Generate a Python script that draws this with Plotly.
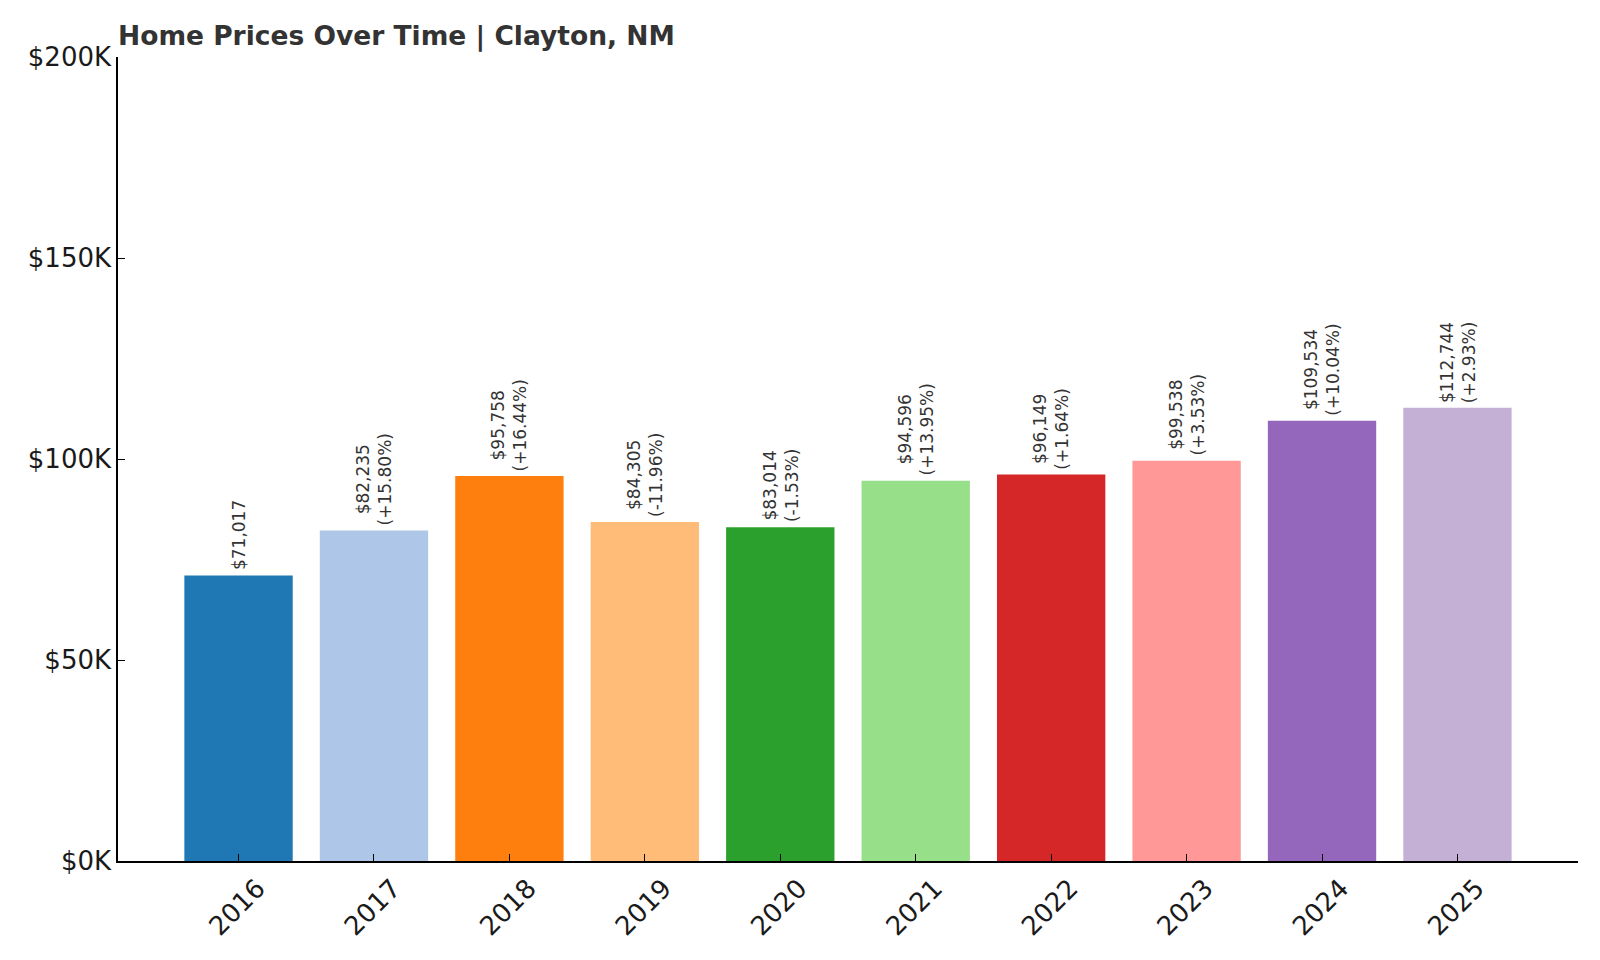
import plotly.graph_objects as go

# -- data
years = ['2016', '2017', '2018', '2019', '2020', '2021', '2022', '2023', '2024', '2025']
prices = [71017, 82235, 95758, 84305, 83014, 94596, 96149, 99538, 109534, 112744]
changes = ['', '+15.80%', '+16.44%', '-11.96%', '-1.53%', '+13.95%', '+1.64%', '+3.53%', '+10.04%', '+2.93%']
colors = ['#1f77b4', '#aec7e8', '#ff7f0e', '#ffbb78', '#2ca02c',
          '#98df8a', '#d62728', '#ff9896', '#9467bd', '#c5b0d5']
y_ticks = [0, 50000, 100000, 150000, 200000]
y_labels = ['$0K', '$50K', '$100K', '$150K', '$200K']

fig = go.Figure()
fig.add_trace(go.Bar(x=years, y=prices, marker=dict(color=colors, line=dict(width=0)),
                     width=0.8, hoverinfo='x+y'))

# labels above each bar, rotated like the original
# (year strings look numeric, so annotations go by category index)
for i, (p, ch) in enumerate(zip(prices, changes)):
    txt = f'${p:,}' if ch == '' else f'${p:,}<br>({ch})'
    fig.add_annotation(x=i, y=p, xref='x', yref='y', text=txt, textangle=-90,
                       showarrow=False, xanchor='center', yanchor='bottom', yshift=3,
                       font=dict(family='DejaVu Sans', size=17, color='#333333'))

# page body has an 8px margin, so keep the figure inside the window
fig.update_layout(
    width=1584, height=944,
    margin=dict(l=110, r=14, t=49, b=91),
    paper_bgcolor='white', plot_bgcolor='white',
    showlegend=False,
    font=dict(family='DejaVu Sans', color='#1a1a1a'),
    title=dict(text='<b>Home Prices Over Time | Clayton, NM</b>',
               x=0, xref='paper', xanchor='left',
               y=1 - 28 / 944, yref='container', yanchor='middle',
               font=dict(family='DejaVu Sans', size=26.5, color='#333333')),
)
fig.update_xaxes(type='category', range=[-0.89, 9.89], showline=True, linecolor='black',
                 linewidth=1.5, ticks='inside', ticklen=7, tickcolor='black', tickangle=-45,
                 ticklabelshift=19,
                 tickfont=dict(size=26, color='#1a1a1a'), showgrid=False)
fig.update_yaxes(range=[0, 200000], tickvals=y_ticks, ticktext=y_labels,
                 showline=True, linecolor='black', linewidth=1.5,
                 ticks='inside', ticklen=7, tickcolor='black',
                 tickfont=dict(size=26, color='#1a1a1a'), showgrid=False, zeroline=False)

fig.write_html('out.html')
